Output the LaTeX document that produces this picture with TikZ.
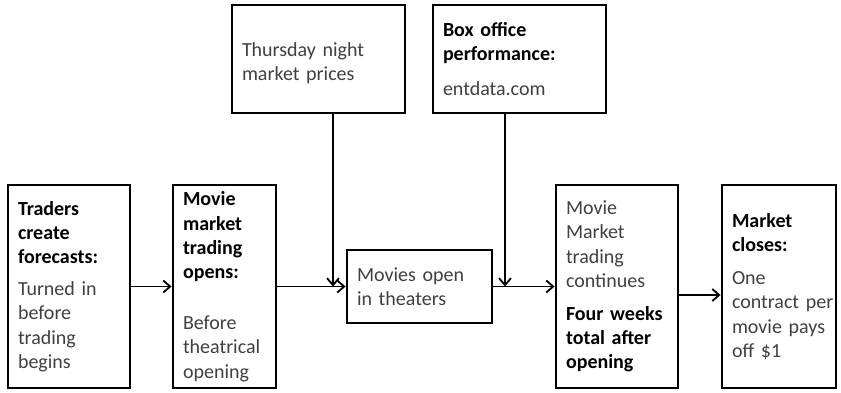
\documentclass[tikz,border=0pt]{standalone}
\usepackage{fontspec}
\setmainfont{Carlito}
\usetikzlibrary{arrows.meta}
\definecolor{txtgray}{HTML}{404040}
\newcommand{\bt}[1]{{\color{black}\bfseries #1}}
\begin{document}
\begin{tikzpicture}[x=1pt,y=-1pt,
  box/.style={draw=black, line width=2.8pt, fill=white, align=left,
    inner xsep=10pt, inner ysep=2pt,
    font=\fontsize{20}{24.4}\selectfont, text=txtgray},
  conn/.style={line width=1.8pt, -{Straight Barb[length=7pt,width=12pt]}}]
\useasboundingbox (0,0) rectangle (841,392);

\node[box, minimum width=122pt, minimum height=203pt, text width=102pt] (b1) at (69,286.5)
  {\bt{Traders}\\\bt{create}\\\bt{forecasts:}\\[7pt]Turned in\\before\\trading\\begins};
\node[box, minimum width=103pt, minimum height=203pt, text width=83pt] (b2) at (224.5,286.5)
  {\bt{Movie}\\\bt{market}\\\bt{trading}\\\bt{opens:}\\[26pt]Before\\theatrical\\opening};
\node[box, minimum width=173pt, minimum height=108pt, text width=153pt] (thu) at (318.5,59)
  {\rule{0pt}{22pt}Thursday night\\market prices};
\node[box, minimum width=173pt, minimum height=108pt, text width=153pt] (bo) at (519.5,59)
  {\bt{Box office}\\\bt{performance:}\\[10pt]entdata.com};
\node[box, minimum width=145pt, minimum height=73pt, text width=125pt] (mo) at (419.5,286.5)
  {Movies open\\in theaters};
\node[box, minimum width=122pt, minimum height=203pt, text width=102pt] (b4) at (617,286.5)
  {Movie\\Market\\trading\\continues\\[8pt]\bt{Four weeks}\\\bt{total after}\\\bt{opening}};
\node[box, minimum width=114pt, minimum height=203pt, text width=94pt] (b5) at (779,286.5)
  {\bt{Market}\\\bt{closes:}\\[8.6pt]One\\\mbox{contract per}\\\mbox{movie pays}\\off \$1};

\coordinate (j1) at (333,286.5);
\coordinate (j2) at (505,286.5);
\coordinate (k) at (700,295);

\draw[conn] (b1) -- (b2);
\draw[conn] (b2) -- (mo);
\draw[conn] (mo) -- (b4);
\draw[conn] (thu.south -| j1) -- (j1);
\draw[conn] (bo.south -| j2) -- (j2);
\draw[conn] (b4.east |- k) -- (b5.west |- k);
\end{tikzpicture}
\end{document}
